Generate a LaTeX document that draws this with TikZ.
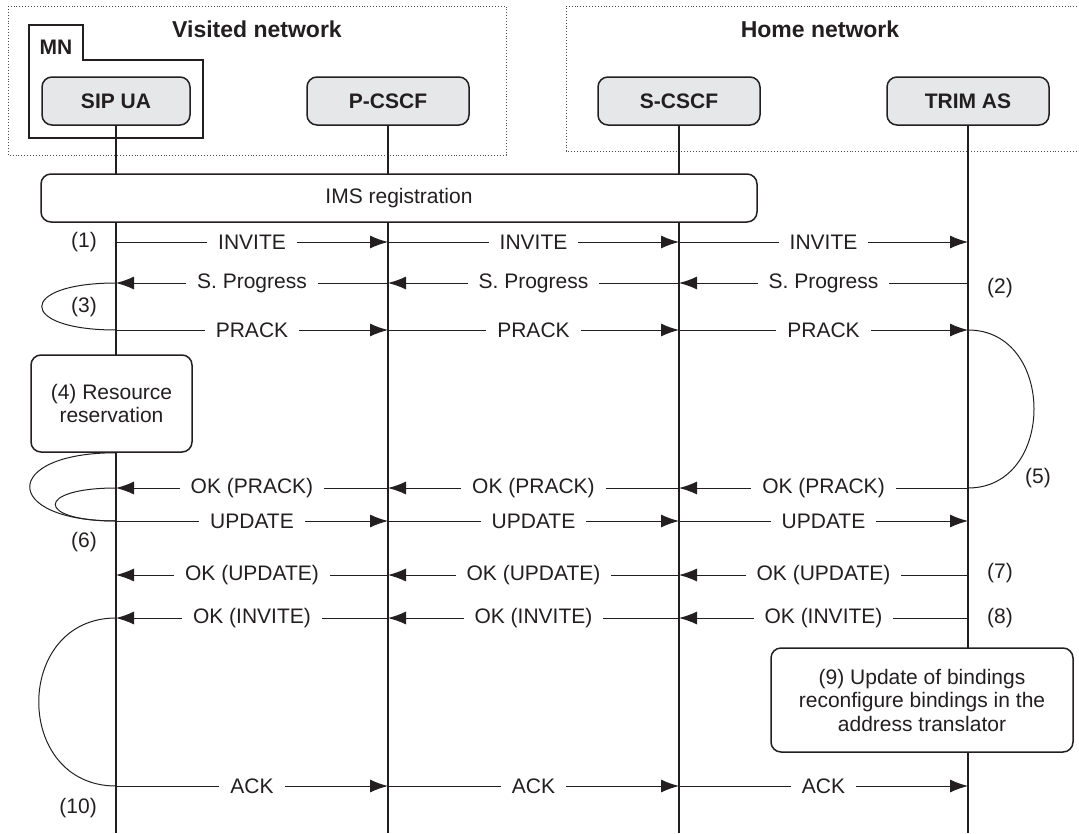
\documentclass[tikz,border=0pt]{standalone}
\usepackage{fontspec}
\setmainfont{Liberation Sans}
\usetikzlibrary{arrows.meta}
\definecolor{headgray}{RGB}{230,231,232}
\definecolor{ink}{RGB}{35,31,32}

\begin{document}
\begin{tikzpicture}[x=1pt,y=-1pt,>={Latex[length=18pt,width=13pt]}]
					\tikzstyle{netbox}=[draw=ink!80,dotted,line width=0.9pt]
					\tikzstyle{netlbl}=[font=\fontsize{23}{25}\selectfont\bfseries,text=ink]
					\tikzstyle{entity}=[draw=ink,line width=1.5pt,fill=headgray,rounded corners=10pt,minimum width=162pt,minimum height=48pt,font=\fontsize{21}{23}\selectfont\bfseries,text=ink]
					\tikzstyle{actbox}=[draw=ink,line width=1.5pt,fill=white,rounded corners=10pt,align=center,font=\fontsize{21}{23.5}\selectfont,text=ink]
					\tikzstyle{life}=[draw=ink,line width=2pt]
					\tikzstyle{msg}=[->,draw=ink,line width=1pt]
					\tikzstyle{lbl}=[fill=white,inner xsep=11pt,inner ysep=1pt,font=\fontsize{21}{23}\selectfont,text=ink]
					\tikzstyle{num}=[inner sep=0pt,font=\fontsize{21}{23}\selectfont,text=ink]
					\tikzstyle{procline}=[draw=ink,line width=1pt]
					\useasboundingbox (0,0) rectangle (1079,833);

					% network areas
					\draw[netbox] (8,6) rectangle (506,155);
					\draw[netbox] (1080,6) -- (566,6) -- (566,151) -- (1080,151);
					\node[netlbl] (visited) at (257,29) {Visited network};
					\node[netlbl] (home) at (820,29) {Home network};
					\draw[draw=ink,line width=1.3pt] (29,25) -- (83,25) -- (83,60) -- (203,60) -- (203,138) -- (29,138) -- cycle;
					\node[netlbl,font=\fontsize{21}{23}\selectfont\bfseries] (mn) at (56,47) {MN};

					% entities
					\node[entity,minimum width=148pt] (ua) at (116,101) {SIP UA};
					\node[entity] (pc) at (388,101) {P-CSCF};
					\node[entity] (sc) at (679,101) {S-CSCF};
					\node[entity] (tr) at (968,101) {TRIM AS};

					\foreach \e in {ua,pc,sc,tr}
						\draw[life] (\e) -- (\e.center |- 0,833);

					% points on the lifelines
					\foreach \r/\y in {inv/242,sp/283,pr/330,okp/488,upd/521,oku/575,oki/618,ack/786}
						\foreach \e in {ua,pc,sc,tr}
							\coordinate (\e-\r) at (\e.center |- 0,\y);

					\node[actbox,minimum width=716pt,minimum height=48pt] (ims) at (399,198) {IMS registration};
					\node[actbox,minimum width=161pt,minimum height=97pt] (res) at (111.5,403.5) {(4) Resource\\reservation};
					\node[actbox,minimum width=302pt,minimum height=104pt] (bind) at (922,700) {(9) Update of bindings\\reconfigure bindings in the\\address translator};

					% messages
					\foreach \r/\txt in {inv/INVITE,pr/PRACK,upd/UPDATE,ack/ACK}
						\foreach \a/\b in {ua/pc,pc/sc,sc/tr}
							\draw[msg] (\a-\r) -- node[lbl] {\txt} (\b-\r);
					\foreach \r/\txt in {sp/{S. Progress},okp/{OK (PRACK)},oku/{OK (UPDATE)},oki/{OK (INVITE)}}
						\foreach \a/\b in {tr/sc,sc/pc,pc/ua}
							\draw[msg] (\a-\r) -- node[lbl] {\txt} (\b-\r);

					% processing loops
					\coordinate (res-out) at (ua.center |- res.south);
					\draw[procline] (ua-sp) .. controls +(-99,0) and +(-99,0) .. (ua-pr);
					\draw[procline] (tr-pr) .. controls +(88,0) and +(88,0) .. (tr-okp);
					\draw[procline] (res-out) .. controls +(-115,0) and +(-115,0) .. (ua-upd);
					\draw[procline] (ua-okp) .. controls +(-81,0) and +(-81,0) .. (ua-upd);
					\draw[procline] (ua-oki) .. controls +(-103,0) and +(-103,0) .. (ua-ack);

					% step numbers
					\node[num,anchor=east] (n1) at (97,242) {(1)};
					\node[num,anchor=west] (n2) at (987,288) {(2)};
					\node[num,anchor=east] (n3) at (97,307) {(3)};
					\node[num,anchor=west] (n5) at (1025,478) {(5)};
					\node[num,anchor=east] (n6) at (97,542) {(6)};
					\node[num,anchor=west] (n7) at (987,573) {(7)};
					\node[num,anchor=west] (n8) at (987,618) {(8)};
					\node[num,anchor=east] (n10) at (97,808) {(10)};
\end{tikzpicture}
\end{document}
